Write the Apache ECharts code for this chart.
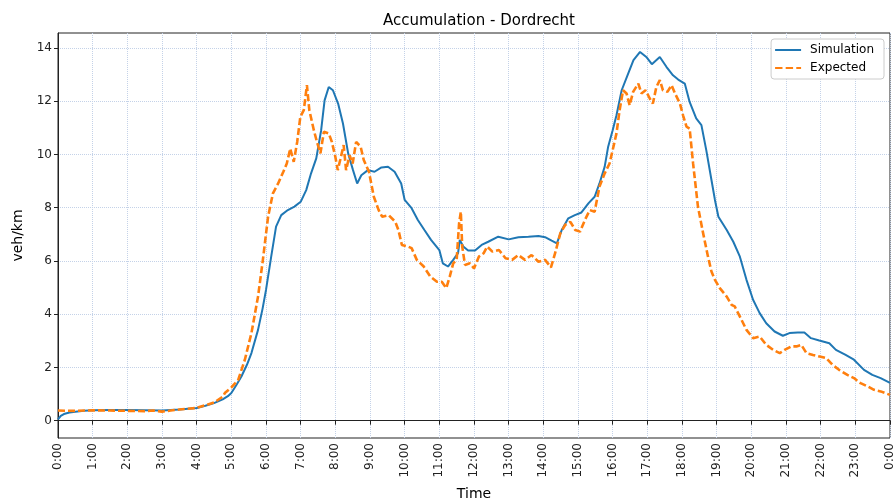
<!DOCTYPE html>
<html>
<head>
<meta charset="utf-8">
<script src="https://cdn.jsdelivr.net/npm/echarts@6/dist/echarts.min.js"></script>
<style>
  html, body { margin: 0; padding: 0; background: #fff; }
  #main { width: 893px; height: 502px; }
</style>
</head>
<body>
<div id="main"></div>
<script>
// Simulation (hours, veh/km)
var simHours = [0, 0.08, 0.17, 0.33, 0.5, 0.75, 1, 1.5, 2, 2.5, 3, 3.5, 4, 4.25, 4.5, 4.75, 4.9, 5, 5.15, 5.29,
  5.45, 5.58, 5.77, 5.9, 6, 6.15, 6.29, 6.44, 6.63, 6.82, 7, 7.16, 7.3, 7.45, 7.59, 7.69, 7.81, 7.93, 8.08, 8.22,
  8.37, 8.51, 8.63, 8.75, 8.94, 9.13, 9.33, 9.52, 9.71, 9.9, 10, 10.2, 10.38, 10.57, 10.76, 11, 11.1, 11.25, 11.4, 11.54,
  11.59, 11.69, 11.83, 12.03, 12.22, 12.41, 12.7, 13, 13.28, 13.57, 13.86, 14.05, 14.24, 14.39, 14.53, 14.72, 14.91, 15.1, 15.3, 15.48,
  15.62, 15.77, 15.87, 16, 16.11, 16.26, 16.45, 16.6, 16.79, 16.97, 17.13, 17.36, 17.55, 17.74, 17.89, 18.08, 18.22, 18.41, 18.56, 18.7,
  18.85, 18.95, 19.05, 19.29, 19.48, 19.67, 19.86, 20.05, 20.24, 20.43, 20.67, 20.91, 21.1, 21.34, 21.53, 21.72, 21.96, 22.25, 22.44, 22.72,
  22.96, 23.25, 23.49, 23.73, 24];
var simValues = [0.05, 0.18, 0.25, 0.31, 0.34, 0.37, 0.39, 0.4, 0.4, 0.39, 0.38, 0.42, 0.48, 0.56, 0.66, 0.8, 0.92, 1.04, 1.35, 1.66,
  2.1, 2.54, 3.41, 4.2, 4.91, 6.16, 7.29, 7.72, 7.91, 8.04, 8.22, 8.66, 9.29, 9.85, 10.9, 12.03, 12.53, 12.41, 11.91, 11.16,
  10.04, 9.41, 8.91, 9.22, 9.41, 9.35, 9.51, 9.54, 9.35, 8.91, 8.29, 7.98, 7.54, 7.16, 6.79, 6.41, 5.91, 5.79, 6.04, 6.29,
  6.79, 6.54, 6.39, 6.39, 6.6, 6.72, 6.91, 6.81, 6.89, 6.91, 6.94, 6.89, 6.76, 6.66, 7.16, 7.6, 7.72, 7.82, 8.16, 8.41,
  8.91, 9.54, 10.29, 10.91, 11.47, 12.41, 13.04, 13.54, 13.85, 13.66, 13.39, 13.66, 13.29, 12.97, 12.81, 12.66, 11.97, 11.35, 11.1, 10.16,
  9.04, 8.29, 7.66, 7.16, 6.72, 6.16, 5.29, 4.54, 4.04, 3.66, 3.35, 3.19, 3.29, 3.31, 3.31, 3.1, 3.01, 2.91, 2.66, 2.47,
  2.29, 1.91, 1.72, 1.6, 1.42];

// Expected (hours, veh/km)
var expHours = [0, 0.5, 1, 1.5, 2, 2.5, 2.75, 3, 3.25, 3.5, 4, 4.25, 4.5, 4.75, 4.82, 5, 5.2, 5.39, 5.58, 5.77,
  5.91, 6.06, 6.2, 6.35, 6.5, 6.6, 6.7, 6.8, 6.9, 6.99, 7.09, 7.18, 7.25, 7.38, 7.47, 7.57, 7.67, 7.81, 7.9, 8,
  8.07, 8.14, 8.24, 8.31, 8.41, 8.5, 8.6, 8.73, 8.82, 8.97, 9.11, 9.25, 9.35, 9.54, 9.73, 9.82, 9.92, 10.1, 10.2, 10.35,
  10.55, 10.74, 10.93, 11.07, 11.2, 11.3, 11.4, 11.5, 11.57, 11.62, 11.66, 11.74, 11.88, 12, 12.14, 12.28, 12.38, 12.53, 12.72, 12.91,
  13.1, 13.28, 13.47, 13.66, 13.86, 14.05, 14.22, 14.34, 14.49, 14.63, 14.78, 14.92, 15.06, 15.2, 15.34, 15.48, 15.62, 15.77, 15.91, 16,
  16.11, 16.2, 16.3, 16.4, 16.49, 16.59, 16.74, 16.83, 16.95, 17.07, 17.16, 17.26, 17.36, 17.45, 17.58, 17.7, 17.8, 17.94, 18.03, 18.13,
  18.22, 18.32, 18.46, 18.6, 18.75, 18.85, 18.95, 19.09, 19.29, 19.43, 19.52, 19.67, 19.86, 20.05, 20.24, 20.43, 20.63, 20.82, 20.96, 21.15,
  21.3, 21.44, 21.59, 21.78, 21.97, 22.16, 22.34, 22.53, 22.77, 22.96, 23.15, 23.35, 23.54, 23.73, 24];
var expValues = [0.38, 0.37, 0.39, 0.38, 0.37, 0.36, 0.38, 0.34, 0.38, 0.42, 0.48, 0.58, 0.68, 0.9, 1.05, 1.25, 1.54, 2.29, 3.29, 4.66,
  6.04, 7.66, 8.54, 8.91, 9.35, 9.66, 10.22, 9.72, 10.47, 11.41, 11.66, 12.6, 11.66, 10.91, 10.47, 10.04, 10.85, 10.79, 10.47, 9.91,
  9.41, 9.79, 10.35, 9.41, 9.97, 9.66, 10.47, 10.29, 9.79, 9.35, 8.41, 7.91, 7.66, 7.72, 7.47, 7.16, 6.6, 6.54, 6.48, 6.04,
  5.79, 5.41, 5.22, 5.22, 4.98, 5.41, 5.91, 6.04, 7.41, 7.85, 6.54, 5.85, 5.91, 5.72, 6.16, 6.29, 6.54, 6.35, 6.41, 6.1,
  6.04, 6.22, 6.04, 6.22, 5.97, 6.04, 5.76, 6.29, 7.04, 7.35, 7.47, 7.16, 7.1, 7.54, 7.91, 7.85, 8.79, 9.29, 9.66, 10.16,
  10.79, 11.66, 12.41, 12.29, 11.85, 12.35, 12.66, 12.29, 12.41, 12.1, 11.91, 12.53, 12.79, 12.41, 12.35, 12.6, 12.29, 11.91, 11.47, 11.04,
  10.97, 9.66, 8.04, 7.1, 6.16, 5.6, 5.29, 4.98, 4.66, 4.35, 4.29, 3.91, 3.41, 3.1, 3.16, 2.85, 2.66, 2.54, 2.66, 2.79,
  2.79, 2.85, 2.54, 2.47, 2.41, 2.35, 2.1, 1.91, 1.72, 1.6, 1.41, 1.29, 1.16, 1.1, 0.97];

var yTicks = [0, 2, 4, 6, 8, 10, 12, 14];

var chart = echarts.init(document.getElementById('main'), null, { renderer: 'canvas' });

// 网格线: 浅蓝点线
var gridLine = { show: true, lineStyle: { color: '#c4d2e8', type: 'dotted', width: 1 } };
var font = 'DejaVu Sans';

// legend icons: solid / dashed line
var solidIcon = 'path://M0,0h26v2h-26z';
var dashIcon = 'path://M0,0h7.4v2h-7.4z M10.6,0h7.4v2h-7.4z M21.2,0h4.8v2h-4.8z';

var option = {
  animation: false,
  backgroundColor: '#ffffff',
  title: {
    text: 'Accumulation - Dordrecht',
    left: 474,
    top: 9,
    textAlign: 'center',
    textStyle: { fontFamily: font, fontSize: 15, fontWeight: 'normal', color: '#000' }
  },
  legend: {
    orient: 'vertical',
    right: 9,
    top: 39,
    itemWidth: 26,
    itemHeight: 2.4,
    itemGap: 6,
    padding: [5, 10, 5, 4],
    backgroundColor: '#fff',
    borderColor: '#cccccc',
    borderWidth: 1,
    borderRadius: 3,
    textStyle: { fontFamily: font, fontSize: 12, color: '#000', padding: [0, 0, 0, 4] },
    data: [
      { name: 'Simulation', icon: solidIcon },
      { name: 'Expected', icon: dashIcon }
    ]
  },
  grid: {
    left: 58, right: 3, top: 33, bottom: 64,
    outerBoundsMode: 'none',
    show: true, borderColor: '#222', borderWidth: 1, backgroundColor: 'transparent'
  },
  xAxis: {
    type: 'value',
    min: 0, max: 24, interval: 1,
    name: 'Time',
    nameLocation: 'middle',
    nameGap: 49,
    nameTextStyle: { fontFamily: font, fontSize: 14, color: '#000' },
    axisLine: { lineStyle: { color: '#222' } },
    axisTick: { length: 4, lineStyle: { color: '#222' } },
    axisLabel: {
      rotate: 90, margin: 5, fontFamily: font, fontSize: 12, color: '#222',
      showMinLabel: true, showMaxLabel: true,
      formatter: function (v) { return (v % 24) + ':00'; }
    },
    splitLine: gridLine
  },
  yAxis: {
    type: 'value',
    min: -0.65, max: 14.56,
    name: 'veh/km',
    nameLocation: 'middle',
    nameGap: 33,
    nameRotate: 90,
    nameTextStyle: { fontFamily: font, fontSize: 14, color: '#000' },
    axisLine: { show: true, lineStyle: { color: '#222' } },
    axisTick: { show: true, length: 4, customValues: yTicks, lineStyle: { color: '#222' } },
    axisLabel: { margin: 6, fontFamily: font, fontSize: 12, color: '#222', customValues: yTicks },
    splitLine: gridLine
  },
  series: [
    {
      name: 'Simulation',
      type: 'line',
      symbol: 'none',
      showSymbol: false,
      color: '#1f77b4',
      lineStyle: { width: 2, color: '#1f77b4' },
      data: simHours.map(function (h, i) { return [h, simValues[i]]; })
    },
    {
      name: 'Expected',
      type: 'line',
      symbol: 'none',
      showSymbol: false,
      color: '#ff7f0e',
      lineStyle: { width: 2.6, color: '#ff7f0e', type: [7, 3] },
      data: expHours.map(function (h, i) { return [h, expValues[i]]; })
    }
  ]
};

chart.setOption(option);
</script>
</body>
</html>
